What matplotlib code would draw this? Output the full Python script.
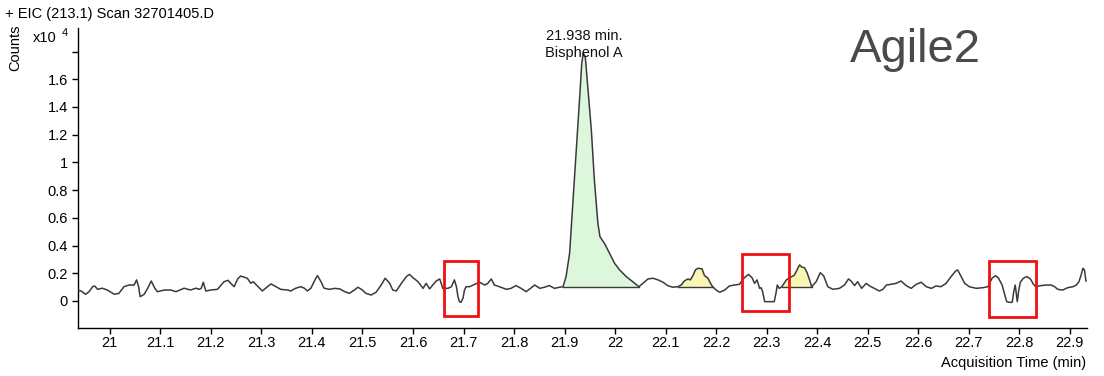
import numpy as np
import matplotlib
matplotlib.use('Agg')
import matplotlib.pyplot as plt
from matplotlib.patches import Rectangle

plt.rcParams['font.family'] = ['Liberation Sans', 'DejaVu Sans']

# EIC trace: acquisition time (min) and counts (x10^4)
rt_start = [20.936, 20.943, 20.952, 20.959, 20.966, 20.970, 20.976, 20.985, 20.995, 21.009,
            21.018, 21.028, 21.038, 21.048, 21.053, 21.057, 21.060, 21.068, 21.075, 21.082,
            21.089, 21.094, 21.108, 21.121, 21.131, 21.147, 21.160, 21.170, 21.177, 21.181,
            21.185, 21.190, 21.200, 21.213, 21.226, 21.234, 21.239, 21.246, 21.253, 21.259,
            21.266, 21.272, 21.279, 21.284, 21.292, 21.302, 21.312, 21.319, 21.329, 21.338,
            21.352, 21.358, 21.368, 21.378, 21.385, 21.391, 21.398, 21.406, 21.411, 21.418,
            21.424]
counts_start = [0.079, 0.072, 0.048, 0.067, 0.103, 0.108, 0.084, 0.092, 0.079, 0.048,
                0.055, 0.103, 0.115, 0.115, 0.152, 0.103, 0.031, 0.048, 0.092, 0.144,
                0.092, 0.067, 0.079, 0.079, 0.067, 0.092, 0.079, 0.092, 0.084, 0.092,
                0.135, 0.072, 0.079, 0.084, 0.139, 0.149, 0.128, 0.103, 0.159, 0.180,
                0.171, 0.164, 0.128, 0.139, 0.108, 0.072, 0.103, 0.123, 0.103, 0.084,
                0.079, 0.072, 0.092, 0.103, 0.092, 0.072, 0.092, 0.152, 0.183, 0.139,
                0.092]

rt_pre = [21.435, 21.445, 21.455, 21.465, 21.474, 21.484, 21.491, 21.498, 21.507, 21.517,
          21.527, 21.537, 21.545, 21.554, 21.560, 21.567, 21.577, 21.587, 21.593, 21.600,
          21.610, 21.620, 21.626, 21.633, 21.639, 21.646, 21.653, 21.659, 21.669, 21.676,
          21.682, 21.686, 21.689, 21.692, 21.695, 21.699, 21.702, 21.705, 21.712, 21.722,
          21.732, 21.742, 21.748, 21.755, 21.761, 21.771, 21.785, 21.794, 21.804, 21.814,
          21.824, 21.831, 21.841, 21.851, 21.860, 21.870, 21.880, 21.890]
counts_pre = [0.084, 0.091, 0.087, 0.067, 0.055, 0.079, 0.099, 0.084, 0.055, 0.043,
              0.063, 0.115, 0.164, 0.127, 0.079, 0.072, 0.127, 0.176, 0.192, 0.168,
              0.139, 0.091, 0.127, 0.087, 0.115, 0.144, 0.159, 0.091, 0.091, 0.103,
              0.152, 0.103, 0.031, -0.005, -0.010, 0.019, 0.079, 0.103, 0.103, 0.120,
              0.135, 0.115, 0.127, 0.159, 0.115, 0.103, 0.084, 0.091, 0.111, 0.091,
              0.067, 0.087, 0.115, 0.091, 0.099, 0.111, 0.091, 0.099]

rt_peak = [21.897, 21.903, 21.910, 21.916, 21.923, 21.930, 21.934, 21.937, 21.941, 21.946,
           21.953, 21.959, 21.966, 21.970, 21.979, 21.989, 21.999, 22.009, 22.022, 22.035,
           22.047]
counts_peak = [0.103, 0.176, 0.344, 0.681, 1.065, 1.474, 1.715, 1.787, 1.763, 1.546,
               1.234, 0.873, 0.560, 0.464, 0.416, 0.344, 0.272, 0.224, 0.176, 0.139,
               0.103]

rt_post = [22.055, 22.065, 22.075, 22.085, 22.095, 22.104, 22.114, 22.124, 22.131, 22.137,
           22.144, 22.149, 22.154, 22.159, 22.164, 22.172, 22.177, 22.184, 22.189, 22.193,
           22.200, 22.207, 22.217, 22.226, 22.236, 22.246, 22.256, 22.264, 22.271, 22.276,
           22.281, 22.286, 22.289, 22.292, 22.296, 22.306, 22.315, 22.319, 22.321, 22.325,
           22.330, 22.339, 22.346, 22.355, 22.360, 22.365, 22.370, 22.375, 22.380, 22.385,
           22.389, 22.398, 22.406, 22.413, 22.421, 22.431, 22.444, 22.454, 22.462, 22.467,
           22.474, 22.480, 22.488, 22.497]
counts_post = [0.127, 0.159, 0.164, 0.152, 0.135, 0.111, 0.099, 0.103, 0.115, 0.144,
               0.159, 0.152, 0.183, 0.224, 0.236, 0.232, 0.183, 0.164, 0.127, 0.103,
               0.079, 0.063, 0.079, 0.108, 0.115, 0.120, 0.168, 0.192, 0.168, 0.127,
               0.152, 0.091, 0.096, 0.067, -0.005, -0.005, -0.005, 0.067, 0.115, 0.091,
               0.103, 0.152, 0.168, 0.187, 0.224, 0.260, 0.244, 0.240, 0.204, 0.152,
               0.103, 0.139, 0.204, 0.180, 0.103, 0.084, 0.091, 0.115, 0.159, 0.144,
               0.111, 0.139, 0.091, 0.127]

rt_end = [22.504, 22.513, 22.523, 22.530, 22.537, 22.546, 22.556, 22.566, 22.576, 22.586,
          22.596, 22.606, 22.616, 22.626, 22.635, 22.645, 22.655, 22.665, 22.674, 22.678,
          22.685, 22.692, 22.701, 22.715, 22.728, 22.738, 22.746, 22.753, 22.759, 22.766,
          22.771, 22.775, 22.781, 22.786, 22.789, 22.792, 22.796, 22.799, 22.802, 22.808,
          22.815, 22.822, 22.828, 22.833, 22.843, 22.853, 22.863, 22.870, 22.876, 22.886,
          22.896, 22.906, 22.913, 22.918, 22.922, 22.926, 22.929, 22.932]
counts_end = [0.108, 0.091, 0.072, 0.084, 0.115, 0.120, 0.127, 0.144, 0.111, 0.091,
              0.120, 0.135, 0.103, 0.091, 0.108, 0.103, 0.127, 0.176, 0.216, 0.224,
              0.176, 0.127, 0.103, 0.091, 0.096, 0.103, 0.164, 0.183, 0.164, 0.115,
              0.048, -0.005, -0.010, -0.010, 0.067, 0.115, -0.005, 0.079, 0.135, 0.164,
              0.176, 0.159, 0.120, 0.103, 0.111, 0.115, 0.115, 0.103, 0.084, 0.079,
              0.096, 0.103, 0.115, 0.139, 0.183, 0.236, 0.224, 0.144]

# integrated peaks
peak_rt = 21.938
peak_name = 'Bisphenol A'
main_peak = (21.897, 22.047)
minor_peaks = [(22.124, 22.193), (22.330, 22.389)]

# red marker boxes (time range, counts range)
box_start = [21.661, 22.251, 22.740]
box_end = [21.729, 22.345, 22.834]
box_low = [-0.108, -0.072, -0.113]
box_high = [0.291, 0.337, 0.289]

x_ticks = [21.0, 21.1, 21.2, 21.3, 21.4, 21.5, 21.6, 21.7, 21.8, 21.9,
           22.0, 22.1, 22.2, 22.3, 22.4, 22.5, 22.6, 22.7, 22.8, 22.9]
y_ticks = [0, 0.2, 0.4, 0.6, 0.8, 1.0, 1.2, 1.4, 1.6, 1.8]

LINE = '#3a3a3a'


def fill_peak(ax, rt, counts, lo, hi, color):
    mask = (rt >= lo - 1e-9) & (rt <= hi + 1e-9)
    x = rt[mask]
    y = counts[mask]
    base = np.interp(x, [x[0], x[-1]], [y[0], y[-1]])
    ax.fill_between(x, y, base, color=color, lw=0, zorder=1)
    ax.plot([x[0], x[-1]], [y[0], y[-1]], color=LINE, lw=1.0, zorder=2)


def main():
    rt = np.array(rt_start + rt_pre + rt_peak + rt_post + rt_end)
    counts = np.array(counts_start + counts_pre + counts_peak + counts_post + counts_end)

    fig = plt.figure(figsize=(11.04, 3.76), dpi=100)
    ax = fig.add_axes([0.0711, 0.1277, 0.9135, 0.7978])

    fill_peak(ax, rt, counts, *main_peak, '#dcf7dc')
    for lo, hi in minor_peaks:
        fill_peak(ax, rt, counts, lo, hi, '#f8f6b2')

    ax.plot(rt, counts, color=LINE, lw=1.1, zorder=3)

    for s, e, lo, hi in zip(box_start, box_end, box_low, box_high):
        ax.add_patch(Rectangle((s, lo), e - s, hi - lo, fill=False,
                               edgecolor='#ee1111', lw=2.0, zorder=4))

    top = counts.max()
    ax.annotate(f'{peak_rt:.3f} min.\n{peak_name}', xy=(peak_rt, top),
                xytext=(0, -5), textcoords='offset points', ha='center', va='bottom',
                fontsize=10.5, linespacing=1.3, color='#111111', zorder=5)

    ax.set_xlim(20.938, 22.934)
    ax.set_ylim(-0.195, 1.97)
    ax.set_xticks(x_ticks)
    ax.set_xticklabels([f'{v:g}' for v in x_ticks])
    ax.set_yticks(y_ticks)
    ax.set_yticklabels([f'{v:g}' if v < 1.7 else '' for v in y_ticks])
    ax.tick_params(axis='x', length=4.5, width=1, pad=1.5, labelsize=10.5)
    ax.tick_params(axis='y', length=4.5, width=1, pad=3, labelsize=10.5)
    for side in ['top', 'right']:
        ax.spines[side].set_visible(False)
    for side in ['left', 'bottom']:
        ax.spines[side].set_linewidth(1.0)

    fig.text(5 / 1104, 1 - 14 / 376, '+ EIC (213.1) Scan 32701405.D',
             fontsize=10.5, va='center', ha='left')
    fig.text(15 / 1104, 1 - 48 / 376, 'Counts', rotation=90,
             fontsize=10.5, va='center', ha='center')
    fig.text(33 / 1104, 1 - 38 / 376, 'x10', fontsize=10.5, va='center', ha='left')
    fig.text(62 / 1104, 1 - 33 / 376, '4', fontsize=8, va='center', ha='left')
    fig.text(1086 / 1104, 1 - 363 / 376, 'Acquisition Time (min)',
             fontsize=10.5, va='center', ha='right')
    fig.text(850 / 1104, 1 - 62 / 376, 'Agile2', fontsize=34, color='#4a4a4a',
             va='baseline', ha='left')

    plt.savefig('out.png', dpi=100)


if __name__ == '__main__':
    main()
